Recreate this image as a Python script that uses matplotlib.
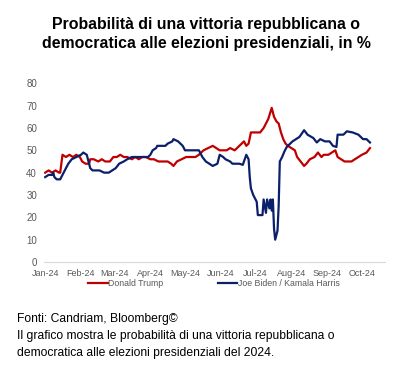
import matplotlib
matplotlib.use("Agg")
import matplotlib.pyplot as plt
import matplotlib.dates as mdates
import numpy as np
import pandas as pd

# --- Data ---
trump_dates = ["2024-01-01", "2024-01-04", "2024-01-07", "2024-01-10", "2024-01-13", "2024-01-14",
               "2024-01-16", "2024-01-19", "2024-01-22", "2024-01-25", "2024-01-28", "2024-01-31",
               "2024-02-02", "2024-02-05", "2024-02-08", "2024-02-09", "2024-02-12", "2024-02-16",
               "2024-02-19", "2024-02-22", "2024-02-26", "2024-02-29", "2024-03-03", "2024-03-06",
               "2024-03-09", "2024-03-12", "2024-03-16", "2024-03-19", "2024-03-22", "2024-03-25",
               "2024-03-28", "2024-04-01", "2024-04-04", "2024-04-08", "2024-04-12", "2024-04-16",
               "2024-04-19", "2024-04-21", "2024-04-24", "2024-04-28", "2024-05-02", "2024-05-06",
               "2024-05-10", "2024-05-13", "2024-05-17", "2024-05-21", "2024-05-25", "2024-05-28",
               "2024-05-31", "2024-06-03", "2024-06-06", "2024-06-09", "2024-06-13", "2024-06-17",
               "2024-06-21", "2024-06-23", "2024-06-25", "2024-06-27", "2024-07-01", "2024-07-05",
               "2024-07-08", "2024-07-10", "2024-07-12", "2024-07-15", "2024-07-17", "2024-07-19",
               "2024-07-21", "2024-07-23", "2024-07-25", "2024-07-27", "2024-07-29", "2024-08-01",
               "2024-08-04", "2024-08-06", "2024-08-09", "2024-08-12", "2024-08-14", "2024-08-17",
               "2024-08-21", "2024-08-24", "2024-08-27", "2024-08-29", "2024-09-02", "2024-09-05",
               "2024-09-08", "2024-09-10", "2024-09-13", "2024-09-16", "2024-09-19", "2024-09-22",
               "2024-09-25", "2024-09-28", "2024-10-01", "2024-10-05", "2024-10-08"]
trump_values = [40, 41, 40, 41, 40, 40,
                48, 47, 48, 47, 48, 47,
                45, 44, 44, 46, 46, 45,
                46, 45, 45, 47, 47, 48,
                47, 47, 46, 47, 46, 47,
                47, 46, 46, 45, 45, 45,
                44, 43, 45, 46, 47, 47,
                47, 48, 50, 51, 52, 51,
                50, 50, 50, 51, 50, 52,
                54, 52, 53, 58, 58, 58,
                60, 62, 64, 69, 65, 63,
                62, 58, 55, 53, 52, 51,
                50, 47, 45, 43, 44, 46,
                47, 49, 47, 48, 48, 49,
                50, 47, 46, 45, 45, 45,
                46, 47, 48, 49, 51]

harris_dates = ["2024-01-01", "2024-01-04", "2024-01-07", "2024-01-08", "2024-01-09", "2024-01-11",
                "2024-01-14", "2024-01-15", "2024-01-18", "2024-01-21", "2024-01-24", "2024-01-28",
                "2024-02-01", "2024-02-03", "2024-02-06", "2024-02-09", "2024-02-11", "2024-02-17",
                "2024-02-21", "2024-02-25", "2024-02-28", "2024-03-02", "2024-03-05", "2024-03-09",
                "2024-03-12", "2024-03-16", "2024-03-23", "2024-03-30", "2024-04-01", "2024-04-03",
                "2024-04-06", "2024-04-07", "2024-04-14", "2024-04-16", "2024-04-20", "2024-04-21",
                "2024-04-25", "2024-04-29", "2024-05-01", "2024-05-07", "2024-05-13", "2024-05-16",
                "2024-05-19", "2024-05-25", "2024-05-29", "2024-05-31", "2024-06-03", "2024-06-05",
                "2024-06-09", "2024-06-11", "2024-06-17", "2024-06-20", "2024-06-23", "2024-06-25",
                "2024-06-26", "2024-06-27", "2024-06-29", "2024-07-02", "2024-07-03", "2024-07-07",
                "2024-07-08", "2024-07-10", "2024-07-11", "2024-07-13", "2024-07-14", "2024-07-15",
                "2024-07-16", "2024-07-17", "2024-07-18", "2024-07-20", "2024-07-21", "2024-07-22",
                "2024-07-24", "2024-07-26", "2024-07-28", "2024-08-02", "2024-08-08", "2024-08-12",
                "2024-08-15", "2024-08-20", "2024-08-23", "2024-08-26", "2024-08-30", "2024-09-03",
                "2024-09-06", "2024-09-09", "2024-09-10", "2024-09-15", "2024-09-18", "2024-09-23",
                "2024-09-28", "2024-10-02", "2024-10-05", "2024-10-08"]
harris_values = [38, 39, 39, 40, 38, 37,
                 37, 38, 41, 44, 46, 47,
                 48, 49, 48, 42, 41, 41,
                 40, 40, 41, 42, 44, 45,
                 46, 47, 47, 47, 48, 50,
                 51, 52, 52, 53, 54, 55,
                 54, 52, 50, 50, 50, 47,
                 45, 43, 44, 48, 47, 46,
                 45, 44, 44, 43.5, 48, 46,
                 38, 33, 30, 27, 21, 21,
                 28, 22, 28, 24, 28, 23,
                 28, 15, 10, 14, 25, 45,
                 47, 49.5, 51.5, 54, 56, 59,
                 57, 55.5, 53.5, 55, 54, 54,
                 52, 51.5, 57, 57, 58.5, 58,
                 57, 55, 55, 53.5]

yticks = [0, 10, 20, 30, 40, 50, 60, 70, 80]
series_labels = ["Donald Trump", "Joe Biden / Kamala Harris"]

title = "Probabilità di una vittoria repubblicana o\ndemocratica alle elezioni presidenziali, in %"
footer = ("Fonti: Candriam, Bloomberg©\n"
          "Il grafico mostra le probabilità di una vittoria repubblicana o\n"
          "democratica alle elezioni presidenziali del 2024.")

# --- Figure ---
W, H = 413, 365
fig = plt.figure(figsize=(W / 100, H / 100), dpi=100)
plt.rcParams['font.family'] = ['Liberation Sans', 'DejaVu Sans']

RED = "#C00000"
NAVY = "#0B1F6B"
GREY = "#595959"

ax_left, ax_right = 44, 385
ax_top, ax_bottom = 83.3, 262
ax = fig.add_axes([ax_left / W, 1 - ax_bottom / H, (ax_right - ax_left) / W, (ax_bottom - ax_top) / H])

td = pd.to_datetime(trump_dates)
hd = pd.to_datetime(harris_dates)
l1, = ax.plot(td, trump_values, color=RED, lw=1.6, solid_joinstyle="round")
l2, = ax.plot(hd, harris_values, color=NAVY, lw=1.6, solid_joinstyle="round")

ax.set_ylim(0, 80)
ax.set_yticks(yticks)
ax.set_xlim(pd.Timestamp("2023-12-31"), pd.Timestamp("2024-10-21"))
ax.xaxis.set_major_locator(mdates.MonthLocator())
ax.xaxis.set_major_formatter(mdates.DateFormatter("%b-%y"))

for s in ["top", "right", "left"]:
    ax.spines[s].set_visible(False)
ax.spines["bottom"].set_color("#D9D9D9")
ax.spines["bottom"].set_linewidth(0.8)
ax.tick_params(axis="y", length=0, labelsize=7, labelcolor=GREY, pad=5)
ax.tick_params(axis="x", length=0, labelsize=6.5, labelcolor=GREY, pad=5)

fig.text(0.5, 1 - 34 / H, title, ha="center", va="center", fontsize=11.4,
         fontweight="bold", color="black", linespacing=1.35)

fig.legend([l1, l2], series_labels, loc="center", bbox_to_anchor=(214 / W, 1 - 284 / H),
           ncol=2, frameon=False, fontsize=6.3, labelcolor=GREY, handlelength=2.2,
           handletextpad=0.1, columnspacing=6.2, borderaxespad=0)

fig.text(17 / W, 1 - 313 / H, footer, ha="left", va="top", fontsize=8.7, color="black",
         linespacing=1.55)

fig.savefig("out.png", dpi=100)
